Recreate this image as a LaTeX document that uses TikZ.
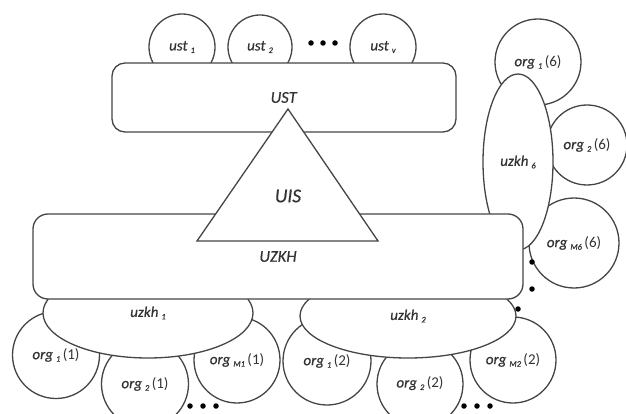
\documentclass[tikz,border=0pt]{standalone}
\usepackage{fontspec}
\setmainfont{Carlito}[ItalicFeatures={FakeBold=0.5}]
\usetikzlibrary{shapes.geometric}
\definecolor{ink}{HTML}{454545}
\definecolor{txt}{HTML}{333333}
\newcommand{\lbl}[2]{\textit{#1}\hspace{3pt}\raisebox{-0.35ex}{\fontsize{8.5}{9}\selectfont\itshape #2}}
\newcommand{\orgl}[3]{\lbl{#1}{#2}\hspace{2.5pt}(#3)}
\tikzset{
  outline/.style={draw=ink, line width=1.3pt, fill=white, text=txt, font=\fontsize{15}{17}\selectfont},
  bubble/.style={outline, circle, inner sep=0pt},
  blob/.style={outline, ellipse, inner sep=0pt},
  panel/.style={outline, rectangle, rounded corners=13pt, inner sep=0pt, font=\fontsize{16.5}{18}\selectfont},
  dotmark/.style={fill=black, draw=none, circle, inner sep=0pt, minimum size=5.5pt}
}
\begin{document}
\begin{tikzpicture}[x=1pt,y=-1pt]
\useasboundingbox (0,0) rectangle (626,414);

% top row of UST members
\node[bubble, minimum size=66pt] (ust1) at (182,47) {\lbl{ust}{1}};
\node[bubble, minimum size=64pt] (ust2) at (260,47) {\lbl{ust}{2}};
\node[bubble, minimum size=66pt] (ustv) at (383,47) {\lbl{ust}{v}};
\node[dotmark] (td1) at (311,43) {};
\node[dotmark] (td2) at (323,43) {};
\node[dotmark] (td3) at (335,43) {};

% organisations around uzkh 6
\node[bubble, minimum size=86pt] (o16) at (538,62) {\orgl{org}{1}{6}};
\node[bubble, minimum size=80pt] (o26) at (587,145) {\orgl{org}{2}{6}};
\node[bubble, minimum size=90pt] (om6) at (574,243) {\orgl{org}{M6}{6}};

% organisations under uzkh 1
\node[bubble, minimum size=87pt] (o11) at (56,355) {\orgl{org}{1}{1}};
\node[bubble, minimum size=87pt] (o21) at (145,384) {\raisebox{2pt}{\orgl{org}{2}{1}}};
\node[bubble, minimum size=86pt] (om1) at (237,360) {\orgl{org}{M1}{1}};

% organisations under uzkh 2
\node[bubble, minimum size=88pt] (o12) at (327,361) {\orgl{org}{1}{2}};
\node[bubble, minimum size=86pt] (o22) at (420,384) {\raisebox{4pt}{\orgl{org}{2}{2}}};
\node[bubble, minimum size=86pt] (om2) at (513,360) {\orgl{org}{M2}{2}};

% intermediate units
\node[blob, minimum width=70pt, minimum height=176pt] (uz6) at (518,162) {\lbl{uzkh}{6}};
\node[blob, minimum width=210pt, minimum height=90pt] (uz1) at (148,313) {\raisebox{-4pt}{\lbl{uzkh}{1}}};
\node[blob, minimum width=216pt, minimum height=84pt] (uz2) at (408,316) {\raisebox{-4pt}{\lbl{uzkh}{2}}};

% main panels
\node[panel, minimum width=344pt, minimum height=69pt] (ust) at (284,97.5) {\textit{UST}};
\node[panel, minimum width=490pt, minimum height=85pt, rounded corners=15pt] (uzkh) at (278,256.5) {\raisebox{-2pt}{\textit{UZKH}}};

% central system
\coordinate (tA) at (288,109);
\coordinate (tB) at (197,241);
\coordinate (tC) at (378,241);
\draw[draw=ink, line width=1.3pt, fill=white, line join=miter] (tA) -- (tB) -- (tC) -- cycle;
\node[text=txt, font=\fontsize{19.5}{22}\selectfont] (uis) at (288,196) {\textit{UIS}};

% continuation marks
\node[dotmark] (rd1) at (532,262) {};
\node[dotmark] (rd2) at (532,289) {};
\node[dotmark] (rd3) at (518,309) {};
\node[dotmark] (bd1) at (190,406) {};
\node[dotmark] (bd2) at (203,406) {};
\node[dotmark] (bd3) at (216,406) {};
\node[dotmark] (bd4) at (464,406) {};
\node[dotmark] (bd5) at (477,406) {};
\node[dotmark] (bd6) at (490,406) {};
\end{tikzpicture}
\end{document}
